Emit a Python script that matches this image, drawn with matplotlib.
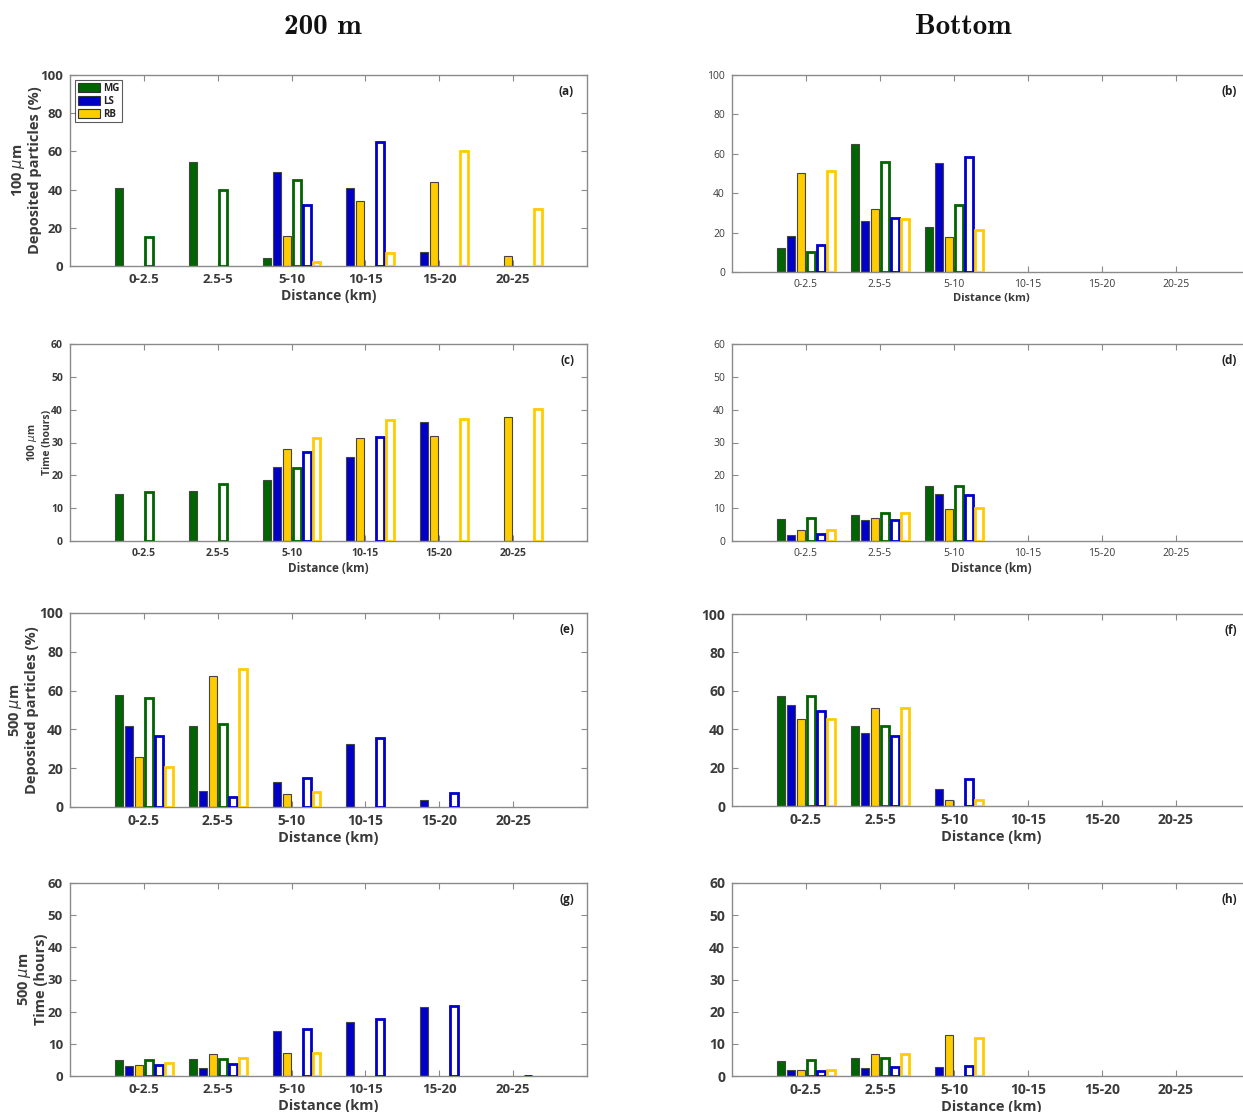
import os
import numpy as np
import matplotlib
matplotlib.use("Agg")
import matplotlib.pyplot as plt
from matplotlib.patches import Patch
from matplotlib.font_manager import FontProperties

nan = np.nan

# Distance bins and particle classes
categories = ["0-2.5", "2.5-5", "5-10", "10-15", "15-20", "20-25"]
classes = ["MG", "LS", "RB"]
class_colors = ["#006400", "#0000C8", "#FFCC00"]

# Each panel: rows = MG, LS, RB ; filled bars and hollow bars
# (a) 200 m, 100 um, deposited particles (%)
a_filled = [[41, 54.5, 4, nan, nan, nan],
            [nan, nan, 49.2, 41, 7.2, nan],
            [nan, nan, 15.7, 34, 43.8, 5.4]]
a_hollow = [[15, 40, 45, nan, nan, nan],
            [nan, nan, 32, 64.7, nan, nan],
            [nan, nan, 2, 7, 60.2, 29.8]]
# (b) bottom, 100 um, deposited particles (%)
b_filled = [[12, 65, 22.8, nan, nan, nan],
            [18.4, 25.9, 55.2, nan, nan, nan],
            [50.3, 31.8, 17.6, nan, nan, nan]]
b_hollow = [[10, 55.8, 33.8, nan, nan, nan],
            [13.8, 27.6, 58.2, nan, nan, nan],
            [51.3, 27, 21.5, nan, nan, nan]]
# (c) 200 m, 100 um, time (hours)
c_filled = [[14.2, 15.1, 18.5, nan, nan, nan],
            [nan, nan, 22.4, 25.5, 36.1, nan],
            [nan, nan, 27.9, 31.4, 32.1, 37.9]]
c_hollow = [[14.9, 17.3, 22.2, nan, nan, nan],
            [nan, nan, 27.1, 31.8, nan, nan],
            [nan, nan, 31.4, 37, 37.2, 40.1]]
# (d) bottom, 100 um, time (hours)
d_filled = [[6.6, 7.8, 16.9, nan, nan, nan],
            [1.9, 6.3, 14.4, nan, nan, nan],
            [3.2, 7, 9.7, nan, nan, nan]]
d_hollow = [[6.9, 8.6, 16.8, nan, nan, nan],
            [2, 6.4, 14.1, nan, nan, nan],
            [3.2, 8.4, 10.2, nan, nan, nan]]
# (e) 200 m, 500 um, deposited particles (%)
e_filled = [[57.7, 41.5, nan, nan, nan, nan],
            [41.5, 8.3, 12.9, 32.5, 3.8, nan],
            [25.6, 67.3, 6.7, nan, nan, nan]]
e_hollow = [[56.3, 42.7, nan, nan, nan, nan],
            [36.5, 5.2, 15.1, 35.8, 7.4, nan],
            [20.7, 71.3, 7.7, nan, nan, nan]]
# (f) bottom, 500 um, deposited particles (%)
f_filled = [[57.5, 41.5, nan, nan, nan, nan],
            [52.6, 38.2, 8.7, nan, nan, nan],
            [45.3, 50.9, 3.3, nan, nan, nan]]
f_hollow = [[57.1, 41.7, nan, nan, nan, nan],
            [49.7, 36.5, 13.9, nan, nan, nan],
            [45.5, 51.2, 3.3, nan, nan, nan]]
# (g) 200 m, 500 um, time (hours)
g_filled = [[5, 5.4, nan, nan, nan, nan],
            [3.1, 2.6, 14.1, 16.8, 21.3, nan],
            [3.3, 6.8, 7.2, nan, nan, nan]]
g_hollow = [[5, 5.3, nan, nan, nan, nan],
            [3.4, 3.6, 14.7, 17.8, 21.7, 0],
            [4, 5.7, 7.2, nan, nan, nan]]
# (h) bottom, 500 um, time (hours)
h_filled = [[4.8, 5.6, nan, nan, nan, nan],
            [1.8, 2.4, 2.8, nan, nan, nan],
            [1.8, 6.9, 12.6, nan, nan, nan]]
h_hollow = [[4.9, 5.6, nan, nan, nan, nan],
            [1.7, 2.9, 3.1, nan, nan, nan],
            [1.8, 6.7, 11.8, nan, nan, nan]]

plt.rcParams["font.family"] = ["Open Sans", "DejaVu Sans"]
TXT = "#3a3a3a"
SPINE = "#8a8a8a"

W, H = 1243, 1112
fig = plt.figure(figsize=(W / 100, H / 100), dpi=100)


def add_ax(left, right, top, bottom):
    return fig.add_axes([left / W, 1 - bottom / H, (right - left) / W, (bottom - top) / H])


panels = [
    # filled, hollow, box (l, r, t, b), ymax, ystep, tag, ticksize, weight, xlabsize
    (a_filled, a_hollow, (70, 587, 75, 266), 100, 20, "(a)", 9.5, "bold", 10),
    (b_filled, b_hollow, (732, 1250, 75, 272), 100, 20, "(b)", 7.5, "normal", 8),
    (c_filled, c_hollow, (70, 587, 344, 541), 60, 10, "(c)", 7.5, "bold", 8.5),
    (d_filled, d_hollow, (732, 1250, 344, 541), 60, 10, "(d)", 7.5, "normal", 8.5),
    (e_filled, e_hollow, (70, 587, 613, 807), 100, 20, "(e)", 10, "bold", 10.5),
    (f_filled, f_hollow, (732, 1250, 614, 806), 100, 20, "(f)", 10, "bold", 10.5),
    (g_filled, g_hollow, (70, 587, 883, 1076), 60, 10, "(g)", 9.5, "bold", 10.5),
    (h_filled, h_hollow, (732, 1250, 883, 1076), 60, 10, "(h)", 10, "bold", 10.5),
]

x = np.arange(1, len(categories) + 1)
step = 0.135
width = 0.108

axes = []
for filled, hollow, box, ymax, ystep, tag, tsize, tweight, xlsize in panels:
    ax = add_ax(*box)
    axes.append(ax)
    for i, (vals, col) in enumerate(zip(filled, class_colors)):
        ax.bar(x + (i - 2.5) * step, vals, width, color=col,
               edgecolor="#454545", linewidth=0.8, zorder=2)
    for i, (vals, col) in enumerate(zip(hollow, class_colors)):
        ax.bar(x + (i + 0.5) * step, vals, width, facecolor="white",
               edgecolor=col, linewidth=2.0, zorder=3)
    ax.set_xlim(0, 7)
    ax.set_ylim(0, ymax)
    ax.set_yticks(np.arange(0, ymax + 1, ystep))
    ax.set_xticks(x)
    ax.set_xticklabels(categories)
    ax.tick_params(direction="in", top=True, right=True, length=4,
                   color=SPINE, labelcolor=TXT, labelsize=tsize, pad=5)
    for lab in ax.get_xticklabels() + ax.get_yticklabels():
        lab.set_fontweight(tweight)
    for s in ax.spines.values():
        s.set_color(SPINE)
        s.set_linewidth(1.0)
    ax.set_xlabel("Distance (km)", fontsize=xlsize, fontweight="bold",
                  color=TXT, labelpad=2)
    ax.text(0.975, 0.915, tag, transform=ax.transAxes, ha="right", va="center",
            fontsize=8.5, fontweight="bold", color="#222222")

# Y labels on the left column
ylabels = [
    (axes[0], "100 $\\mu$m\nDeposited particles (%)", 26, 10.5, 1.15),
    (axes[2], "100 $\\mu$m\nTime (hours)", 39, 7.5, 1.3),
    (axes[4], "500 $\\mu$m\nDeposited particles (%)", 23, 10.5, 1.15),
    (axes[6], "500 $\\mu$m\nTime (hours)", 32, 10.5, 1.15),
]
for ax, text, xpx, size, ls in ylabels:
    l, r, t, b = panels[axes.index(ax)][2]
    ax.text((xpx - l) / (r - l), 0.5, text, transform=ax.transAxes, rotation=90,
            ha="center", va="center", fontsize=size, fontweight="bold",
            color=TXT, linespacing=ls, multialignment="center")

# Legend for the particle classes
handles = [Patch(facecolor=c, edgecolor="#333333", linewidth=0.8) for c in class_colors]
leg = axes[0].legend(handles, classes, loc="upper left", bbox_to_anchor=(0.009, 0.975),
                     borderaxespad=0, fontsize=7, frameon=True, fancybox=False,
                     handlelength=2.3, handleheight=1.1, handletextpad=0.3,
                     labelspacing=0.2, borderpad=0.3)
leg.get_frame().set_edgecolor("#333333")
leg.get_frame().set_linewidth(0.8)
for t in leg.get_texts():
    t.set_fontweight("bold")
    t.set_color("#222222")

# Column headings in bold Computer Modern
cm_bold_path = os.path.join(matplotlib.get_data_path(), "fonts", "ttf", "cmb10.ttf")
if os.path.exists(cm_bold_path):
    head_font = FontProperties(fname=cm_bold_path, size=21)
else:
    head_font = FontProperties(family="DejaVu Serif", weight="bold", size=19)
fig.text(323 / W, 1 - 27 / H, "200 m", fontproperties=head_font,
         ha="center", va="center", color="#111111")
fig.text(963 / W, 1 - 27 / H, "Bottom", fontproperties=head_font,
         ha="center", va="center", color="#111111")

fig.savefig("out.png", dpi=100)
